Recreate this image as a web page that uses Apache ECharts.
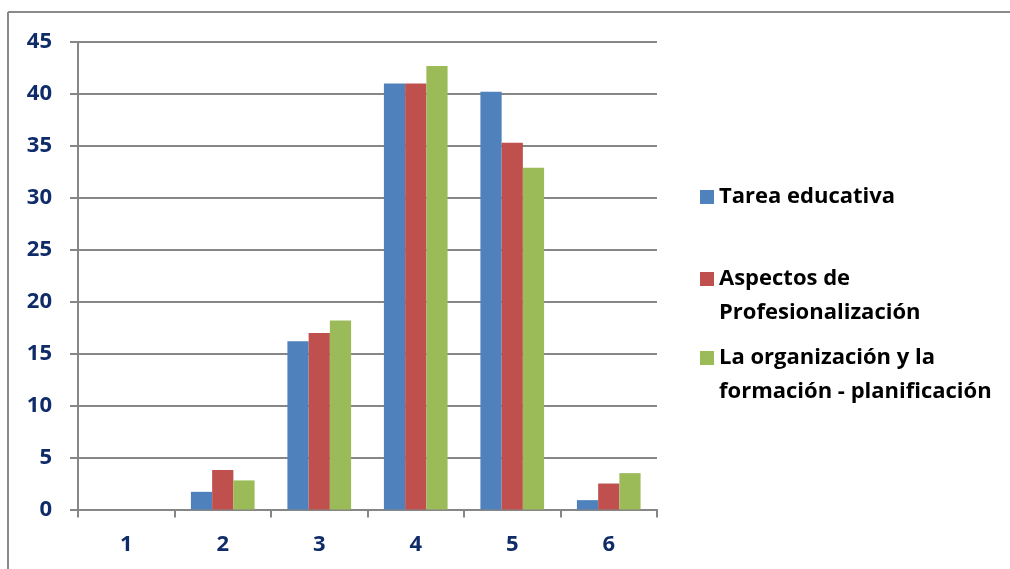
<!DOCTYPE html>
<html>
<head>
<meta charset="utf-8">
<script src="https://cdn.jsdelivr.net/npm/echarts@6/dist/echarts.min.js"></script>
<style>
  html, body { margin: 0; padding: 0; background: #fff; }
  #chart { width: 1010px; height: 569px; }
</style>
</head>
<body>
<div id="chart"></div>
<script>
// Categories along the x axis
const categories = ['1', '2', '3', '4', '5', '6'];

// Series names (legend labels; "\n" marks the wrap point)
const seriesNames = [
  'Tarea educativa',
  'Aspectos de\nProfesionalización',
  'La organización y la\nformación - planificación'
];

// Values per series
const tareaEducativa   = [0, 1.7, 16.2, 41.0, 40.2, 0.9];
const aspectosProf     = [0, 3.8, 17.0, 41.0, 35.3, 2.5];
const organizacionPlan = [0, 2.8, 18.2, 42.7, 32.9, 3.5];

// Y axis range
const yMin = 0, yMax = 45, yStep = 5;

const colors = ['#4F81BD', '#C0504D', '#9BBB59'];
const labelColor = '#0F2C68';
const axisGray = '#868686';
const fontFamily = '"Open Sans", "Noto Sans", sans-serif';

const chart = echarts.init(document.getElementById('chart'), null, { renderer: 'canvas' });

const legendBase = {
  orient: 'vertical',
  left: 700,
  icon: 'rect',
  itemWidth: 14,
  itemHeight: 14,
  selectedMode: false,
  padding: 0,
  textStyle: {
    color: '#000',
    fontFamily: fontFamily,
    fontWeight: 'bold',
    fontSize: 22,
    lineHeight: 34
  }
};

// Two-line entries: a leading blank line keeps the swatch level with the first text line
const firstLineAligned = name => '\u00A0\n' + name;

chart.setOption({
  animation: false,
  color: colors,
  graphic: [
    { type: 'line', shape: { x1: 8, y1: 12, x2: 1010, y2: 12 }, style: { stroke: '#8a8a8a', lineWidth: 2 } },
    { type: 'line', shape: { x1: 8, y1: 12, x2: 8, y2: 569 }, style: { stroke: '#8a8a8a', lineWidth: 2 } }
  ],
  legend: [
    Object.assign({}, legendBase, { top: 180, data: [seriesNames[0]] }),
    Object.assign({}, legendBase, { top: 228, data: [seriesNames[1]], formatter: firstLineAligned }),
    Object.assign({}, legendBase, { top: 307, data: [seriesNames[2]], formatter: firstLineAligned })
  ],
  grid: { left: 78, right: 353, top: 42, bottom: 59.5, containLabel: false },
  xAxis: {
    type: 'category',
    data: categories,
    axisLine: { lineStyle: { color: axisGray, width: 2 } },
    axisTick: { show: true, length: 8, lineStyle: { color: axisGray, width: 2 } },
    axisLabel: { color: labelColor, fontFamily: fontFamily, fontWeight: 'bold', fontSize: 22, margin: 24 },
    splitLine: { show: false }
  },
  yAxis: {
    type: 'value',
    min: yMin, max: yMax, interval: yStep,
    axisLine: { show: true, lineStyle: { color: axisGray, width: 2 } },
    axisTick: { show: true, length: 8, lineStyle: { color: axisGray, width: 2 } },
    axisLabel: { color: labelColor, fontFamily: fontFamily, fontWeight: 'bold', fontSize: 22, margin: 26 },
    splitLine: { show: true, lineStyle: { color: axisGray, width: 2 } }
  },
  series: [
    { name: seriesNames[0], type: 'bar', data: tareaEducativa, barGap: '0%', barCategoryGap: '34%' },
    { name: seriesNames[1], type: 'bar', data: aspectosProf, barGap: '0%', barCategoryGap: '34%' },
    { name: seriesNames[2], type: 'bar', data: organizacionPlan, barGap: '0%', barCategoryGap: '34%' }
  ]
});
</script>
</body>
</html>
